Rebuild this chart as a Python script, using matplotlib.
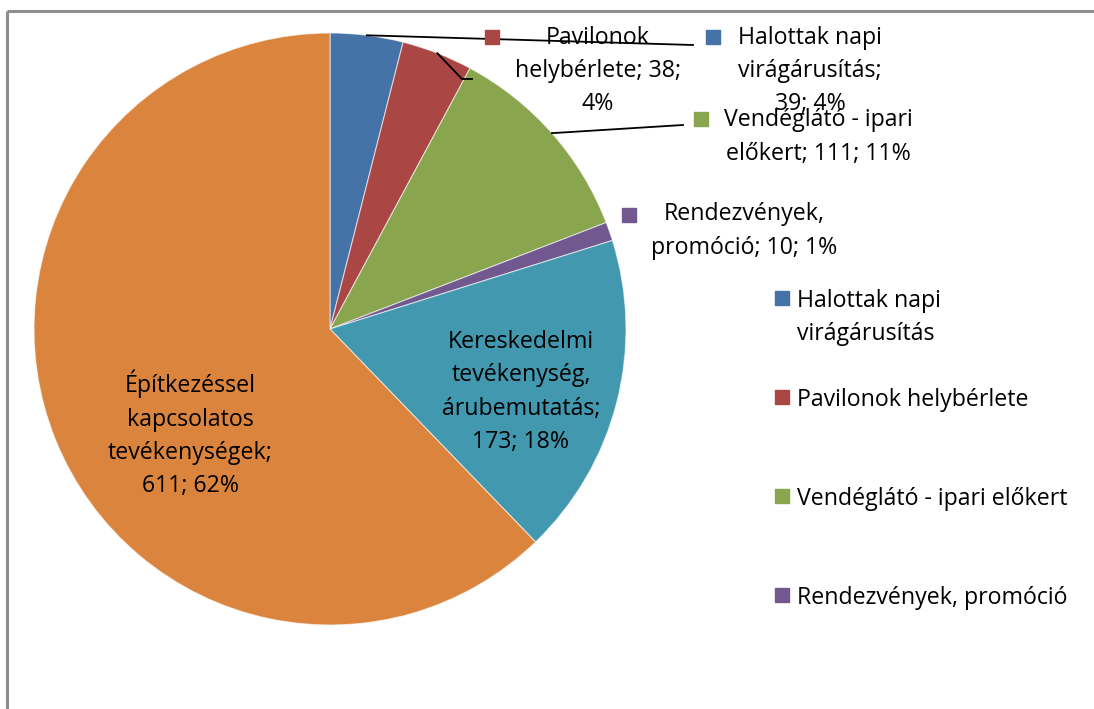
"""Pie chart of public space use permits by category (recreated)."""

import matplotlib
matplotlib.use("Agg")
import numpy as np
import matplotlib.pyplot as plt

plt.rcParams["font.family"] = ["Open Sans", "DejaVu Sans"]

W, H = 1094, 709

# Data, clockwise from 12 o'clock
categories = ["Halottak napi virágárusítás", "Pavilonok helybérlete",
              "Vendéglátó - ipari előkert", "Rendezvények, promóció",
              "Kereskedelmi tevékenység, árubemutatás",
              "Építkezéssel kapcsolatos tevékenységek"]
values = [39, 38, 111, 10, 173, 611]
colors = ["#4572A7", "#AA4643", "#89A54E", "#71588F", "#4198AF", "#DB843D"]

# Data label text as wrapped in the original
label_fmt = ["Halottak napi\nvirágárusítás;\n{v}; {p}%",
             "Pavilonok\nhelybérlete; {v};\n{p}%",
             "Vendéglátó - ipari\nelőkert; {v}; {p}%",
             "Rendezvények,\npromóció; {v}; {p}%",
             "Kereskedelmi\ntevékenység,\nárubemutatás;\n{v}; {p}%",
             "Építkezéssel\nkapcsolatos\ntevékenységek;\n{v}; {p}%"]

# Legend (only the first four entries fit in the chart area)
legend_names = ["Halottak napi\nvirágárusítás", "Pavilonok helybérlete",
                "Vendéglátó - ipari előkert", "Rendezvények, promóció"]

FS = 16.7
LS = 1.52

# =============================================================================
# Layout (pixel coordinates, y measured from the top)
CX, CY, R = 330, 329, 296
label_pos = [(810, 71), (598, 71), (818, 137), (744, 231), (521, 392), (190, 434)]
key_pos = [(713, 37), (492, 37), (701, 119), (629, 215), None, None]
leaders = {0: [(693, 45)], 1: [(462, 79), (472, 79)], 2: [(683, 125)]}


def Y(y):
    return H - y


fig = plt.figure(figsize=(W / 100, H / 100), dpi=100)
ax = fig.add_axes([0, 0, 1, 1])

wedges, _ = ax.pie(values, colors=colors, startangle=90, counterclock=False,
                   radius=R, center=(CX, Y(CY)),
                   wedgeprops=dict(edgecolor=(1, 1, 1, 0.6), linewidth=0.8))
ax.set_xlim(0, W)
ax.set_ylim(0, H)
ax.set_aspect("equal")
ax.axis("off")

total = sum(values)
for i, (w, v) in enumerate(zip(wedges, values)):
    pct = round(100 * v / total)
    x, y = label_pos[i]
    ax.text(x, Y(y), label_fmt[i].format(v=v, p=pct), ha="center", va="center",
            multialignment="center", fontsize=FS, linespacing=LS,
            color="black")
    if key_pos[i] is not None:
        kx, ky = key_pos[i]
        ax.plot(kx, Y(ky), marker="s", markersize=10, color=colors[i],
                linestyle="none")
    if i in leaders:
        ang = np.deg2rad((w.theta1 + w.theta2) / 2)
        px = [CX + R * np.cos(ang)] + [p[0] for p in leaders[i]]
        py = [Y(CY) + R * np.sin(ang)] + [Y(p[1]) for p in leaders[i]]
        ax.plot(px, py, color="black", linewidth=1.3)

# Legend drawn as a column of keys with even slots
for i, name in enumerate(legend_names):
    ly = 298 + i * 99
    ax.plot(782, Y(ly), marker="s", markersize=10, color=colors[i],
            linestyle="none")
    ax.text(797, Y(ly - 9), name, ha="left", va="top", fontsize=FS,
            linespacing=LS, color="black")

# Chart frame (top and left edges visible)
ax.plot([6.5, W], [Y(10.5), Y(10.5)], color="#8e8e8e", linewidth=2.2,
        solid_capstyle="butt")
ax.plot([6.5, 6.5], [Y(10.5), 0], color="#8e8e8e", linewidth=2.2,
        solid_capstyle="butt")

fig.savefig("out.png", dpi=100)
